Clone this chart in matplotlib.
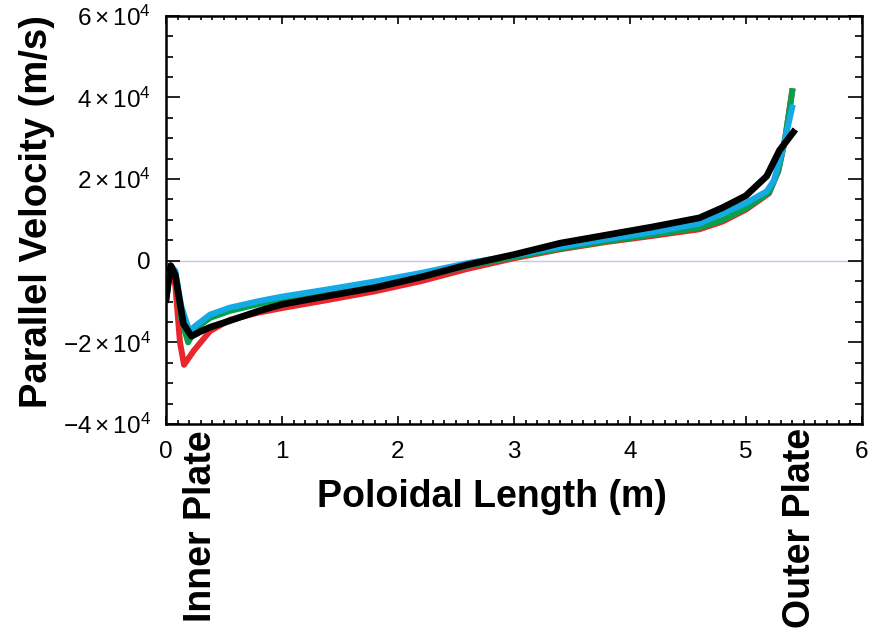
import matplotlib
matplotlib.use("Agg")
import matplotlib.pyplot as plt
from matplotlib.ticker import MultipleLocator, FuncFormatter

# poloidal length (m) and parallel velocity (m/s)
red_x = [0.0, 0.04, 0.08, 0.12, 0.155, 0.24, 0.38, 0.55, 0.8, 1.0, 1.4, 1.8,
         2.2, 2.6, 3.0, 3.4, 3.8, 4.2, 4.6, 4.8, 5.0, 5.2, 5.28, 5.34, 5.4]
red_v = [-9500, -1200, -6000, -20000, -25500, -22000, -17200, -14500, -12700,
         -11600, -9600, -7500, -5000, -2000, 600, 2800, 4600, 6100, 7700,
         9600, 12500, 16500, 22000, 30000, 41500]

green_x = [0.0, 0.04, 0.08, 0.13, 0.19, 0.26, 0.38, 0.55, 0.8, 1.0, 1.4, 1.8,
           2.2, 2.6, 3.0, 3.4, 3.8, 4.2, 4.6, 4.8, 5.0, 5.2, 5.28, 5.34, 5.4]
green_v = [-9500, -1200, -3000, -14000, -20000, -16500, -14000, -12300, -10600,
           -9700, -8000, -6300, -4000, -1300, 900, 3000, 4800, 6400, 8100,
           10000, 12800, 16700, 22000, 30000, 41500]

blue_x = [0.0, 0.04, 0.08, 0.13, 0.2, 0.26, 0.38, 0.55, 0.8, 1.0, 1.4, 1.8,
          2.2, 2.6, 3.0, 3.4, 3.8, 4.2, 4.6, 4.8, 5.0, 5.18, 5.24, 5.32, 5.4]
blue_v = [-9500, -1200, -2500, -11000, -17200, -15800, -13200, -11500, -9900,
          -8800, -7000, -5100, -3000, -600, 1300, 3400, 5300, 7000, 9100,
          11600, 14100, 17000, 19500, 27500, 37500]

black_x = [0.0, 0.04, 0.08, 0.15, 0.22, 0.3, 0.38, 0.55, 0.8, 1.0, 1.4, 1.8,
           2.2, 2.6, 3.0, 3.4, 3.8, 4.2, 4.6, 4.8, 5.0, 5.18, 5.29, 5.41]
black_v = [-9500, -1200, -3500, -15500, -18500, -17300, -16300, -14700, -12300,
           -10700, -8600, -6600, -4000, -1000, 1500, 4300, 6300, 8300, 10500,
           13000, 15900, 20700, 27000, 31500]

plt.rcParams["font.family"] = ["Liberation Sans", "DejaVu Sans"]
plt.rcParams["mathtext.fontset"] = "custom"
plt.rcParams["mathtext.rm"] = "Liberation Sans"
plt.rcParams["mathtext.it"] = "Liberation Sans:italic"
plt.rcParams["mathtext.bf"] = "Liberation Sans:bold"


def sci(v, pos):
    if v == 0:
        return "0"
    m = int(round(v / 1e4))
    sign = "-" if m < 0 else ""
    return r"$%s%d\times10^{4}$" % (sign, abs(m))


fig = plt.figure(figsize=(8.74, 6.3), dpi=100)
ax = fig.add_axes([0.19, 0.327, 0.796, 0.648])

ax.axhline(0, color="#C8C6E4", lw=1.0, zorder=1)
ax.plot(red_x, red_v, color="#E8262B", lw=4.3, solid_joinstyle="round", zorder=2)
ax.plot(green_x, green_v, color="#07A04C", lw=4.3, solid_joinstyle="round", zorder=3)
ax.plot(blue_x, blue_v, color="#14AAE6", lw=4.3, solid_joinstyle="round", zorder=4)
ax.plot(black_x, black_v, color="black", lw=4.8, solid_joinstyle="round", zorder=5)

ax.set_xlim(0, 6)
ax.set_ylim(-4e4, 6e4)
ax.xaxis.set_major_locator(MultipleLocator(1))
ax.xaxis.set_minor_locator(MultipleLocator(0.1))
ax.yaxis.set_major_locator(MultipleLocator(2e4))
ax.yaxis.set_minor_locator(MultipleLocator(5e3))
ax.yaxis.set_major_formatter(FuncFormatter(sci))
ax.xaxis.set_major_formatter(FuncFormatter(lambda v, p: "%d" % v))

ax.tick_params(axis="both", which="both", direction="in", top=True, right=True,
               width=1.2, labelsize=17.5)
ax.tick_params(axis="y", which="both", pad=11)
ax.tick_params(axis="x", which="both", pad=12)
ax.tick_params(axis="y", which="major", length=10)
ax.tick_params(axis="y", which="minor", length=5)
ax.tick_params(axis="x", which="major", length=6)
ax.tick_params(axis="x", which="minor", length=3)
for s in ax.spines.values():
    s.set_linewidth(1.8)

ax.set_xlabel("Poloidal Length (m)", fontsize=27, fontweight="bold")
ax.xaxis.set_label_coords(0.468, -0.179)
ax.xaxis.label.set_va("center")
ax.set_ylabel("Parallel Velocity (m/s)", fontsize=27.5, fontweight="bold")
ax.yaxis.set_label_coords(-0.185, 0.52)
ax.yaxis.label.set_va("center")

ax.text(0.3, -0.015, "Inner Plate", transform=ax.get_xaxis_transform(),
        rotation=90, ha="center", va="top", fontsize=27, fontweight="bold")
ax.text(5.47, -0.01, "Outer Plate", transform=ax.get_xaxis_transform(),
        rotation=90, ha="center", va="top", fontsize=27, fontweight="bold")

fig.savefig("out.png", dpi=100)
